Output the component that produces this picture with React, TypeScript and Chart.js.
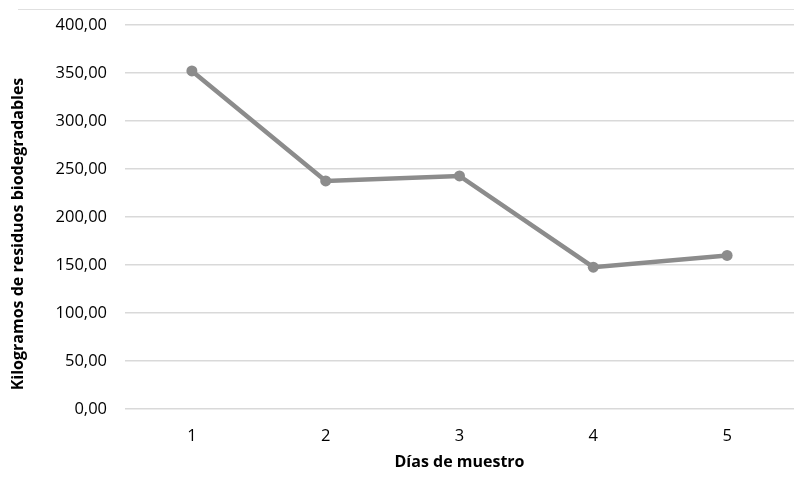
import React, { useEffect, useRef } from "react";
import { Chart, registerables } from "chart.js";

Chart.register(...registerables);

const categories = ["1", "2", "3", "4", "5"];
const values = [352.1, 237.6, 242.8, 147.7, 160.0];
const yTicks = [0, 50, 100, 150, 200, 250, 300, 350, 400];
const xTitle = "Días de muestro";
const yTitle = "Kilogramos de residuos biodegradables";

const FONT = "'Open Sans', sans-serif";

const yTitlePlugin = {
  id: "yTitlePlugin",
  afterDraw(chart: any) {
    const c = chart.ctx;
    c.save();
    c.translate(18, 234);
    c.rotate(-Math.PI / 2);
    c.font = `bold 16px ${FONT}`;
    c.fillStyle = "#000";
    c.textAlign = "center";
    c.textBaseline = "middle";
    c.fillText(yTitle, 0, 0);
    c.restore();
  },
};

export default function App() {
  const ref = useRef<HTMLCanvasElement | null>(null);
  useEffect(() => {
    document.body.style.margin = "0";
    const ctx = ref.current!;
    const chart = new Chart(ctx, {
      type: "line",
      data: {
        labels: categories,
        datasets: [
          {
            data: values,
            borderColor: "#8c8c8c",
            backgroundColor: "#8c8c8c",
            borderWidth: 4.5,
            pointRadius: 5.5,
            pointBorderWidth: 0,
            pointBackgroundColor: "#8c8c8c",
            tension: 0,
            clip: false,
          },
        ],
      },
      options: {
        responsive: false,
        animation: false,
        layout: { autoPadding: false, padding: { left: 0, top: 25, right: 0, bottom: 0 } },
        plugins: { legend: { display: false }, tooltip: { enabled: false } },
        scales: {
          x: {
            offset: true,
            grid: { display: false, drawTicks: false },
            border: { display: false },
            ticks: { color: "#000", font: { family: FONT, size: 16.5 }, padding: 17 },
            title: {
              display: true,
              text: xTitle,
              color: "#000",
              font: { family: FONT, size: 16, weight: "bold" },
              padding: { top: 0, bottom: 9 },
            },
            afterFit: (s: any) => {
              s.height = 72;
              s.paddingLeft = 0;
              s.paddingRight = 0;
            },
          },
          y: {
            min: 0,
            max: 400,
            afterBuildTicks: (s: any) => {
              s.ticks = yTicks.map((v) => ({ value: v }));
            },
            grid: { color: "#d9d9d9", lineWidth: 1.5, drawTicks: false },
            border: { display: false },
            ticks: {
              color: "#000",
              font: { family: FONT, size: 16.5 },
              padding: 18,
              callback: (v: any) => Number(v).toFixed(2).replace(".", ","),
            },
            afterFit: (s: any) => {
              s.width = 125;
              s.paddingTop = 0;
              s.paddingBottom = 0;
            },
          },
        },
      },
      plugins: [yTitlePlugin],
    });
    return () => chart.destroy();
  }, []);
  return (
    <div style={{ position: "absolute", left: 0, top: 0, width: 794, height: 481, background: "#fff" }}>
      <div
        style={{
          position: "absolute",
          left: 18,
          right: 0,
          top: 9,
          height: 0,
          borderTop: "1px solid #e0e0e0",
        }}
      />
      <canvas ref={ref} width={794} height={481} style={{ display: "block" }} />
    </div>
  );
}
